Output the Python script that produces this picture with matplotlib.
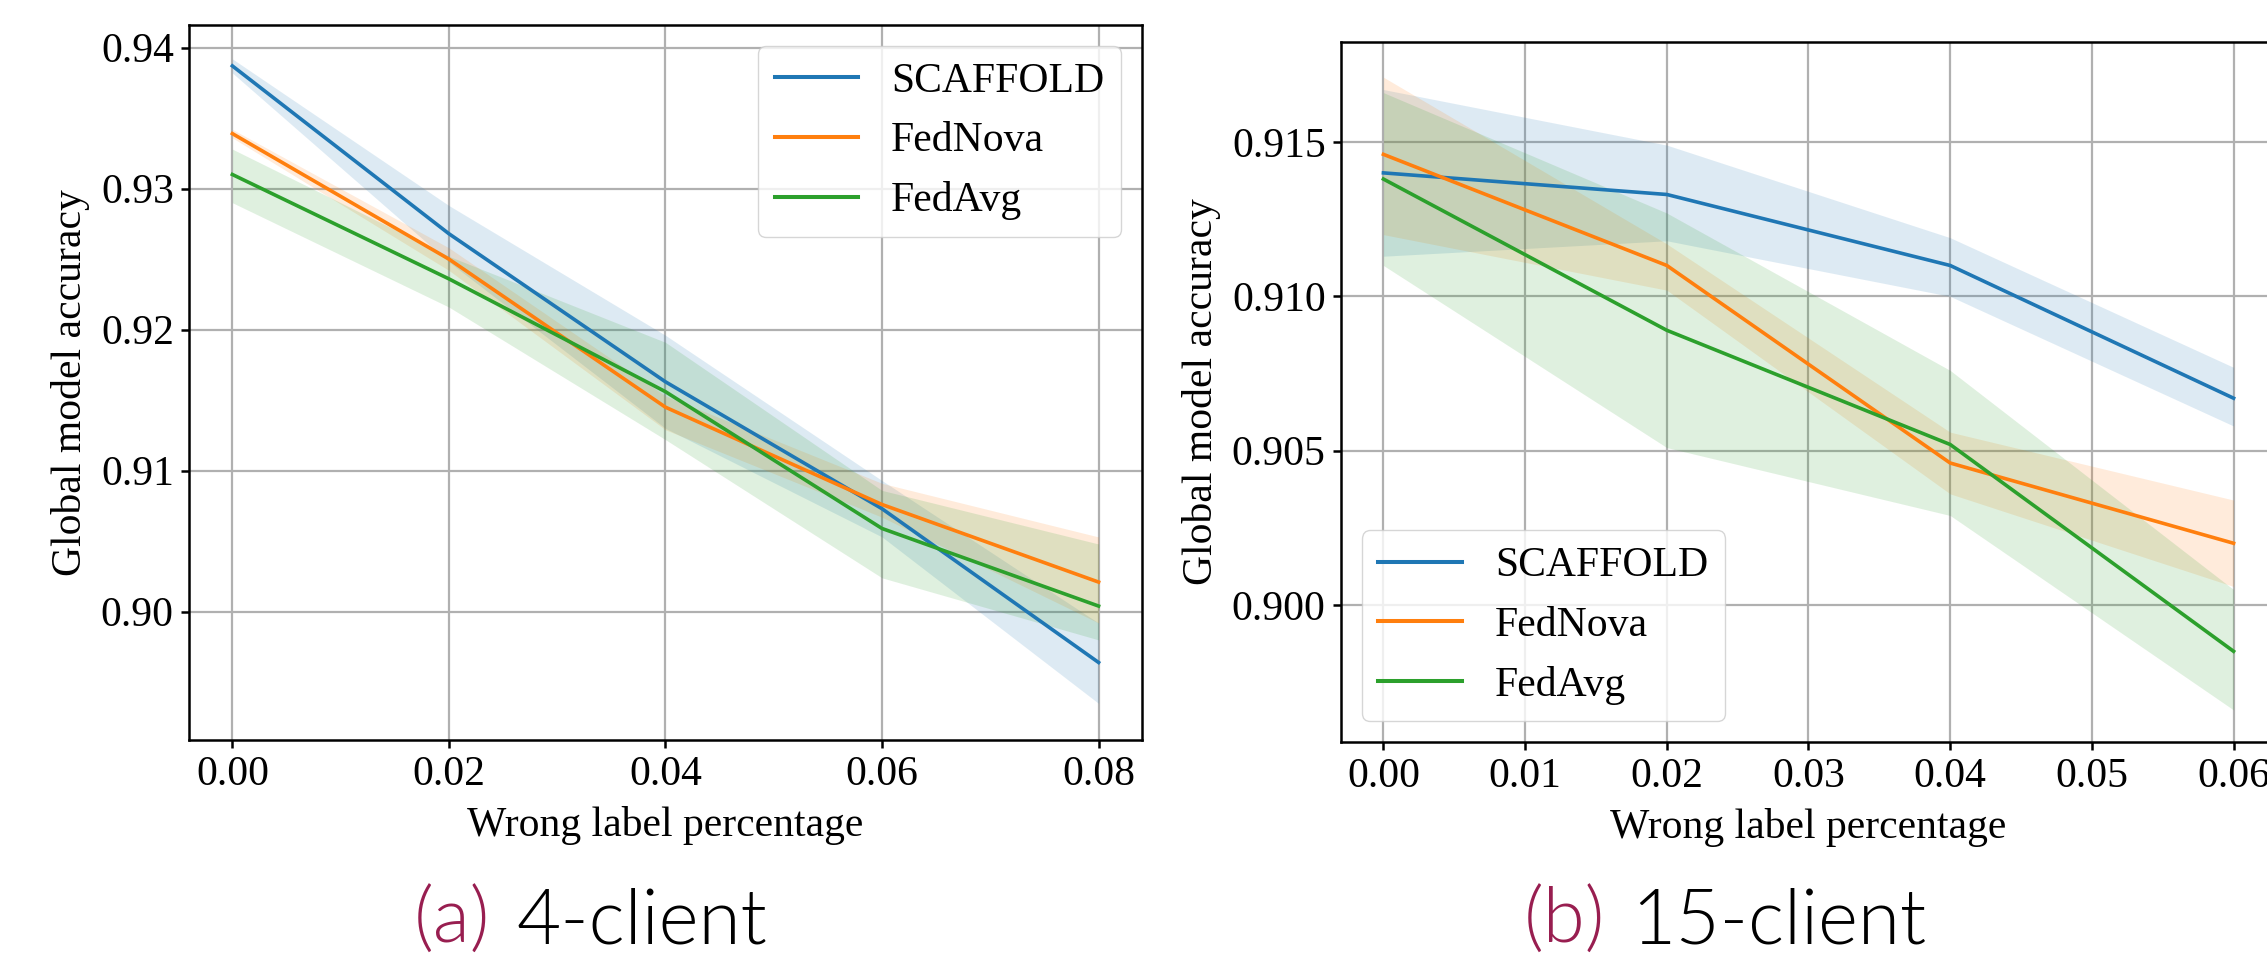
import matplotlib
matplotlib.use("Agg")
import matplotlib.pyplot as plt
import numpy as np

# 4-client results
x_4 = [0.00, 0.02, 0.04, 0.06, 0.08]
scaffold_4 = [0.9387, 0.9268, 0.9163, 0.9073, 0.8964]
scaffold_4_hi = [0.9392, 0.9288, 0.9196, 0.9093, 0.8992]
scaffold_4_lo = [0.9382, 0.9248, 0.9130, 0.9053, 0.8935]
fednova_4 = [0.9339, 0.9250, 0.9145, 0.9076, 0.9021]
fednova_4_hi = [0.9342, 0.9258, 0.9153, 0.9091, 0.9053]
fednova_4_lo = [0.9336, 0.9242, 0.9129, 0.9067, 0.8992]
fedavg_4 = [0.9310, 0.9236, 0.9156, 0.9059, 0.9004]
fedavg_4_hi = [0.9328, 0.9252, 0.9191, 0.9086, 0.9048]
fedavg_4_lo = [0.9290, 0.9216, 0.9122, 0.9024, 0.8980]

# 15-client results
x_15 = [0.00, 0.02, 0.04, 0.06]
scaffold_15 = [0.9140, 0.9133, 0.9110, 0.9067]
scaffold_15_hi = [0.9167, 0.9149, 0.9119, 0.9077]
scaffold_15_lo = [0.9113, 0.9118, 0.9100, 0.9058]
fednova_15 = [0.9146, 0.9110, 0.9046, 0.9020]
fednova_15_hi = [0.9171, 0.9117, 0.9056, 0.9034]
fednova_15_lo = [0.9120, 0.9102, 0.9036, 0.9006]
fedavg_15 = [0.9138, 0.9089, 0.9052, 0.8985]
fedavg_15_hi = [0.9166, 0.9127, 0.9076, 0.9005]
fedavg_15_lo = [0.9110, 0.9051, 0.9029, 0.8966]

labels = ["SCAFFOLD", "FedNova", "FedAvg"]
colors = ["#1f77b4", "#ff7f0e", "#2ca02c"]

plt.rcParams["font.family"] = ["Liberation Serif", "DejaVu Serif"]
plt.rcParams["font.size"] = 30

fig = plt.figure(figsize=(22.67, 9.55), dpi=100)
ax1 = fig.add_axes([0.0834, 0.2251, 0.4203, 0.7487])
ax2 = fig.add_axes([0.5915, 0.2230, 0.4125, 0.7330])


def draw_panel(ax, x, series, xticks, ylim, yticks, yfmt, legend_loc):
    for (mean, lo, hi), lab, c in zip(series, labels, colors):
        ax.plot(x, mean, color=c, lw=2.6, label=lab)
        ax.fill_between(x, lo, hi, color=c, alpha=0.15, lw=0)
    ax.set_xticks(xticks)
    ax.set_xticklabels([f"{t:.2f}" for t in xticks])
    ax.set_yticks(yticks)
    ax.set_yticklabels([yfmt.format(t) for t in yticks])
    ax.set_ylim(*ylim)
    ax.grid(True, color="#b0b0b0", lw=1.6)
    ax.set_axisbelow(True)
    ax.tick_params(labelsize=30, length=6, width=1.8, pad=5)
    for s in ax.spines.values():
        s.set_linewidth(1.8)
    ax.set_xlabel("Wrong label percentage", fontsize=30, labelpad=9)
    ax.set_ylabel("Global model accuracy", fontsize=30, labelpad=8)
    leg = ax.legend(loc=legend_loc, fontsize=30)
    for h in leg.get_lines():
        h.set_linewidth(2.9)


draw_panel(ax1, x_4,
           [(scaffold_4, scaffold_4_lo, scaffold_4_hi),
            (fednova_4, fednova_4_lo, fednova_4_hi),
            (fedavg_4, fedavg_4_lo, fedavg_4_hi)],
           [0.00, 0.02, 0.04, 0.06, 0.08], (0.8909, 0.9416),
           [0.90, 0.91, 0.92, 0.93, 0.94], "{:.2f}", "upper right")
ax1.set_xlim(-0.004, 0.084)

draw_panel(ax2, x_15,
           [(scaffold_15, scaffold_15_lo, scaffold_15_hi),
            (fednova_15, fednova_15_lo, fednova_15_hi),
            (fedavg_15, fedavg_15_lo, fedavg_15_hi)],
           [0.00, 0.01, 0.02, 0.03, 0.04, 0.05, 0.06], (0.89556, 0.91824),
           [0.900, 0.905, 0.910, 0.915], "{:.3f}", "lower left")
ax2.set_xlim(-0.003, 0.063)

# sub-captions
cap_kw = dict(fontsize=55, family=["Lato", "DejaVu Sans"], weight=300,
              va="baseline")
W, H = 2267.0, 955.0
fig.text(490 / W, 12 / H, "(a)", color="#981e50", ha="right", **cap_kw)
fig.text(516 / W, 12 / H, "4-client", color="black", ha="left", **cap_kw)
fig.text(1605 / W, 12 / H, "(b)", color="#981e50", ha="right", **cap_kw)
fig.text(1631 / W, 12 / H, "15-client", color="black", ha="left", **cap_kw)

fig.savefig("out.png", dpi=100)
